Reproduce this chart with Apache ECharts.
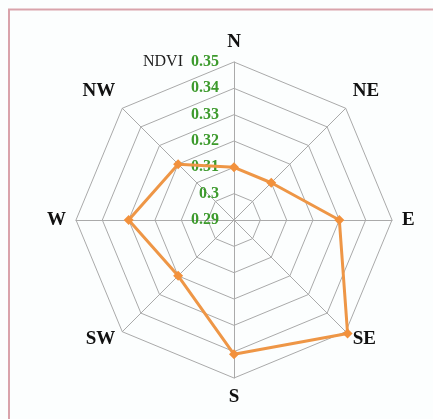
<!DOCTYPE html>
<html>
<head>
<meta charset="utf-8">
<script src="https://cdn.jsdelivr.net/npm/echarts@6/dist/echarts.min.js"></script>
<style>
html,body{margin:0;padding:0;background:#fcfefe;}
#main{width:433px;height:419px;}
</style>
</head>
<body>
<div id="main"></div>
<script>
var chart = echarts.init(document.getElementById('main'));

// 方向（radar 从顶部逆时针排列）
var directions = ['N', 'NW', 'W', 'SW', 'S', 'SE', 'E', 'NE'];
var ndvi = [0.31, 0.32, 0.33, 0.32, 0.341, 0.351, 0.33, 0.31];
var axisMin = 0.29;
var axisMax = 0.35;
var axisSplit = 6;

var indicators = directions.map(function (d, i) {
    var ind = {name: d, min: axisMin, max: axisMax};
    if (i === 0) {
        ind.axisLabel = {
            show: true,
            color: '#3c9a2c',
            fontFamily: 'Liberation Serif',
            fontWeight: 'bold',
            fontSize: 16,
            margin: 15,
            formatter: function (v) {
                var s = (+v.toFixed(2)).toString();
                if (Math.abs(v - axisMax) < 1e-6) {
                    return '{n|NDVI}  ' + s;
                }
                return s;
            },
            rich: {
                n: {
                    color: '#222',
                    fontFamily: 'Liberation Serif',
                    fontWeight: 'normal',
                    fontSize: 16
                }
            }
        };
    }
    return ind;
});

option = {
    backgroundColor: '#fcfefe',
    graphic: [{
        type: 'rect',
        shape: {x: 9, y: 9.5, width: 440, height: 420},
        style: {fill: 'none', stroke: '#d9a3ab', lineWidth: 2}
    }],
    radar: {
        center: [234, 220],
        radius: 158,
        splitNumber: axisSplit,
        shape: 'polygon',
        indicator: indicators,
        nameGap: 10,
        axisName: {
            color: '#111',
            fontFamily: 'Liberation Serif',
            fontWeight: 'bold',
            fontSize: 19,
            formatter: function (n) {
                // 斜上方的名字往上抬一点
                if (n === 'NE' || n === 'NW') {
                    return '{a|' + n + '}\n{s| }';
                }
                return '{a|' + n + '}';
            },
            rich: {
                a: {
                    color: '#111',
                    fontFamily: 'Liberation Serif',
                    fontWeight: 'bold',
                    fontSize: 19
                },
                s: {fontSize: 8, lineHeight: 20}
            }
        },
        axisLine: {lineStyle: {color: '#aaaaaa', width: 1}},
        splitLine: {lineStyle: {color: '#aaaaaa', width: 1}},
        splitArea: {show: false},
        axisLabel: {show: false}
    },
    series: [{
        type: 'radar',
        symbol: 'diamond',
        symbolSize: 10,
        itemStyle: {color: '#f2913c'},
        lineStyle: {color: '#ee9646', width: 3},
        data: [{value: ndvi, name: 'NDVI'}]
    }]
};
chart.setOption(option);
</script>
</body>
</html>
